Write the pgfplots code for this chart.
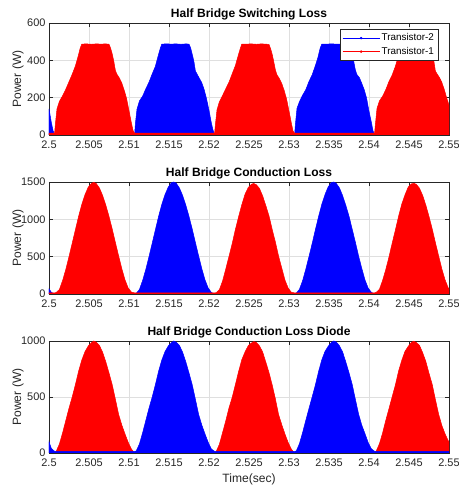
\documentclass[border=0pt]{standalone}
\usepackage{fontspec}
\setmainfont{Liberation Sans}
\usepackage{pgfplots}
\pgfplotsset{compat=1.18}

\definecolor{axisgray}{RGB}{38,38,38}
\definecolor{gridgray}{RGB}{223,223,223}
\definecolor{tblue}{RGB}{0,0,255}
\definecolor{tred}{RGB}{255,0,0}

\pgfplotsset{
  lossaxis/.style={
    scale only axis, width=400bp, height=112bp, anchor=south west,
    xmin=2.5, xmax=2.55,
    xtick={2.5,2.505,2.51,2.515,2.52,2.525,2.53,2.535,2.54,2.545,2.55},
    xticklabels={2.5,2.505,2.51,2.515,2.52,2.525,2.53,2.535,2.54,2.545,2.55},
    /pgf/number format/assume math mode=true,
    grid=major, major grid style={draw=gridgray, line width=0.5pt},
    axis line style={draw=axisgray, line width=0.5pt},
    tick style={draw=axisgray, line width=0.5pt},
    tick align=inside, major tick length=4bp,
    ticklabel style={font=\fontsize{11}{13}\selectfont, text=axisgray},
    xticklabel style={yshift=-2bp},
    ylabel={Power (W)},
    every axis y label/.style={at={(axis description cs:-0.0775,0.5)}, rotate=90, anchor=center,
      font=\fontsize{12.1}{14}\selectfont, text=axisgray},
    every axis title/.style={at={(axis description cs:0.5,1)}, anchor=base, yshift=5bp,
      font=\bfseries\fontsize{12.1}{14}\selectfont, text=black},
    fillb/.style={draw=tblue, fill=tblue, line width=0.5pt, forget plot},
    fillr/.style={draw=tred, fill=tred, line width=0.5pt, forget plot},
  }
}

\begin{document}
\begin{tikzpicture}
\useasboundingbox (0,0) rectangle (459bp,485bp);

% ---------------- switching loss ----------------
\begin{axis}[lossaxis, at={(49bp,350bp)},
  ymin=0, ymax=600, ytick={0,200,400,600}, yticklabels={0,200,400,600},
  title={Half Bridge Switching Loss},
  legend image code/.code={
    \draw[#1, line width=0.5pt] (0bp,0bp) -- (37bp,0bp);
    \fill[#1] (18.5bp,0bp) circle (1bp);
  },
  legend style={at={(0.9725,0.944)}, anchor=north east, draw=axisgray, line width=0.5pt,
    fill=white, font=\fontsize{9.9}{11}\selectfont, text=black,
    inner xsep=2bp, inner ysep=2.5bp, row sep=1.2bp,
    nodes={inner sep=1.8bp}},
  legend cell align=left]
\addlegendimage{tblue}
\addlegendentry{Transistor-2}
\addlegendimage{tred}
\addlegendentry{Transistor-1}

\addplot[fillb] coordinates {
 (2.5000,140) (2.5003,65) (2.5005,25) (2.5007,0) (2.5106,0)
 (2.5107,0) (2.5108,62) (2.5110,138) (2.5113,182) (2.5117,208) (2.5121,247) (2.5125,283) (2.5129,327)
 (2.5133,368) (2.5136,417) (2.5139,463) (2.5141,487) (2.5147,488) (2.5153,487) (2.5159,488) (2.5165,486)
 (2.5171,488) (2.5175,487) (2.5177,467) (2.5179,433) (2.5181,397) (2.5183,343) (2.5185,327) (2.5188,303)
 (2.5191,280) (2.5194,242) (2.5197,193) (2.5200,132) (2.5203,63) (2.5205,27) (2.5207,0)
 (2.5306,0)
 (2.5307,0) (2.5308,57) (2.5310,143) (2.5313,178) (2.5317,213) (2.5321,243) (2.5325,287) (2.5329,323)
 (2.5333,372) (2.5336,413) (2.5339,466) (2.5341,487) (2.5347,487) (2.5353,488) (2.5359,487) (2.5365,486)
 (2.5371,488) (2.5375,486) (2.5377,463) (2.5379,437) (2.5381,393) (2.5383,347) (2.5385,323) (2.5388,307)
 (2.5391,276) (2.5394,243) (2.5397,197) (2.5400,127) (2.5403,67) (2.5405,23) (2.5407,0)
 (2.5500,0)
} \closedcycle;

\addplot[fillr] coordinates {
 (2.5000,10) (2.5006,10)
 (2.5007,10) (2.5008,60) (2.5010,140) (2.5013,180) (2.5017,210) (2.5021,245) (2.5025,285) (2.5029,325)
 (2.5033,370) (2.5036,415) (2.5039,465) (2.5041,487) (2.5047,488) (2.5053,486) (2.5059,488) (2.5065,487)
 (2.5071,488) (2.5075,486) (2.5077,465) (2.5079,435) (2.5081,395) (2.5083,345) (2.5085,325) (2.5088,305)
 (2.5091,278) (2.5094,240) (2.5097,195) (2.5100,130) (2.5103,65) (2.5105,25) (2.5107,10)
 (2.5206,10)
 (2.5207,10) (2.5208,55) (2.5210,135) (2.5213,178) (2.5217,212) (2.5221,248) (2.5225,283) (2.5229,328)
 (2.5233,372) (2.5236,418) (2.5239,462) (2.5241,487) (2.5247,487) (2.5253,488) (2.5259,486) (2.5265,488)
 (2.5271,487) (2.5275,485) (2.5277,462) (2.5279,432) (2.5281,392) (2.5283,348) (2.5285,322) (2.5288,302)
 (2.5291,275) (2.5294,238) (2.5297,192) (2.5300,128) (2.5303,62) (2.5305,22) (2.5307,10)
 (2.5406,10)
 (2.5407,10) (2.5408,58) (2.5410,142) (2.5413,182) (2.5417,208) (2.5421,243) (2.5425,287) (2.5429,322)
 (2.5433,368) (2.5436,413) (2.5439,467) (2.5441,487) (2.5447,488) (2.5453,487) (2.5459,486) (2.5465,488)
 (2.5471,487) (2.5475,486) (2.5477,468) (2.5479,438) (2.5481,398) (2.5483,342) (2.5485,328) (2.5488,308)
 (2.5491,282) (2.5494,245) (2.5497,200) (2.5500,160)
} \closedcycle;
\end{axis}

% ---------------- conduction loss ----------------
\begin{axis}[lossaxis, at={(49bp,191bp)},
  ymin=0, ymax=1500, ytick={0,500,1000,1500}, yticklabels={0,500,1000,1500},
  title={Half Bridge Conduction Loss}]
\addplot[fillb] coordinates {
 (2.5000,70) (2.5003,22) (2.5007,0) (2.5106,0)
 (2.5107,0) (2.5109,8) (2.5113,60) (2.5117,180) (2.5121,330) (2.5125,500) (2.5129,680) (2.5133,860)
 (2.5137,1040) (2.5141,1200) (2.5145,1330) (2.5149,1430) (2.5153,1490) (2.5156,1500) (2.5159,1485)
 (2.5163,1420) (2.5167,1320) (2.5171,1190) (2.5175,1040) (2.5179,870) (2.5183,690) (2.5187,510)
 (2.5191,340) (2.5195,190) (2.5199,80) (2.5203,20) (2.5207,0)
 (2.5306,0)
 (2.5307,0) (2.5309,10) (2.5313,62) (2.5317,178) (2.5321,332) (2.5325,502) (2.5329,678) (2.5333,862)
 (2.5337,1038) (2.5341,1202) (2.5345,1332) (2.5349,1435) (2.5353,1492) (2.5356,1500) (2.5359,1482)
 (2.5363,1422) (2.5367,1318) (2.5371,1188) (2.5375,1042) (2.5379,868) (2.5383,692) (2.5387,508)
 (2.5391,342) (2.5395,188) (2.5399,78) (2.5403,22) (2.5407,0)
 (2.5500,0)
} \closedcycle;

\addplot[fillr] coordinates {
 (2.5000,15) (2.5006,15)
 (2.5007,15) (2.5009,20) (2.5013,60) (2.5017,180) (2.5021,330) (2.5025,500) (2.5029,680) (2.5033,860)
 (2.5037,1040) (2.5041,1200) (2.5045,1330) (2.5049,1430) (2.5053,1480) (2.5056,1495) (2.5059,1480)
 (2.5063,1420) (2.5067,1320) (2.5071,1190) (2.5075,1040) (2.5079,870) (2.5083,690) (2.5087,510)
 (2.5091,340) (2.5095,190) (2.5099,80) (2.5103,25) (2.5107,15)
 (2.5206,15)
 (2.5207,15) (2.5209,18) (2.5213,58) (2.5217,175) (2.5221,335) (2.5225,505) (2.5229,675) (2.5233,865)
 (2.5237,1035) (2.5241,1195) (2.5245,1335) (2.5249,1425) (2.5253,1470) (2.5256,1480) (2.5259,1465)
 (2.5263,1415) (2.5267,1315) (2.5271,1185) (2.5275,1045) (2.5279,865) (2.5283,695) (2.5287,505)
 (2.5291,345) (2.5295,185) (2.5299,78) (2.5303,22) (2.5307,15)
 (2.5406,15)
 (2.5407,15) (2.5409,22) (2.5413,62) (2.5417,182) (2.5421,328) (2.5425,498) (2.5429,682) (2.5433,858)
 (2.5437,1042) (2.5441,1205) (2.5445,1328) (2.5449,1432) (2.5453,1475) (2.5456,1482) (2.5459,1470)
 (2.5463,1418) (2.5467,1322) (2.5471,1192) (2.5475,1038) (2.5479,872) (2.5483,688) (2.5487,512)
 (2.5491,338) (2.5495,192) (2.5499,82) (2.5500,75)
} \closedcycle;
\end{axis}

% ---------------- diode conduction loss ----------------
\begin{axis}[lossaxis, at={(49bp,32bp)},
  ymin=0, ymax=1000, ytick={0,500,1000}, yticklabels={0,500,1000},
  title={Half Bridge Conduction Loss Diode},
  xlabel={Time(sec)},
  every axis x label/.style={at={(axis description cs:0.5,0)}, anchor=base, yshift=-29bp,
    font=\fontsize{12.1}{14}\selectfont, text=axisgray}]
\addplot[fillr] coordinates {
 (2.5000,0) (2.5006,0)
 (2.5007,0) (2.5009,15) (2.5013,80) (2.5017,180) (2.5021,290) (2.5025,400) (2.5029,500) (2.5033,610)
 (2.5037,730) (2.5041,830) (2.5045,905) (2.5049,955) (2.5053,985) (2.5056,1000) (2.5059,990)
 (2.5063,960) (2.5067,900) (2.5071,815) (2.5075,715) (2.5079,610) (2.5083,480) (2.5087,345)
 (2.5091,250) (2.5095,170) (2.5099,95) (2.5103,35) (2.5107,0)
 (2.5206,0)
 (2.5207,0) (2.5209,13) (2.5213,78) (2.5217,183) (2.5221,288) (2.5225,403) (2.5229,497) (2.5233,612)
 (2.5237,727) (2.5241,833) (2.5245,902) (2.5249,958) (2.5253,982) (2.5256,995) (2.5259,988)
 (2.5263,957) (2.5267,903) (2.5271,812) (2.5275,718) (2.5279,607) (2.5283,483) (2.5287,342)
 (2.5291,252) (2.5295,168) (2.5299,93) (2.5303,33) (2.5307,0)
 (2.5406,0)
 (2.5407,0) (2.5409,17) (2.5413,82) (2.5417,178) (2.5421,292) (2.5425,397) (2.5429,503) (2.5433,608)
 (2.5437,732) (2.5441,828) (2.5445,908) (2.5449,952) (2.5453,988) (2.5456,998) (2.5459,987)
 (2.5463,962) (2.5467,897) (2.5471,818) (2.5475,712) (2.5479,613) (2.5483,477) (2.5487,348)
 (2.5491,247) (2.5495,172) (2.5499,110) (2.5500,100)
} \closedcycle;

\addplot[fillb] coordinates {
 (2.5000,100) (2.5003,40) (2.5007,15) (2.5106,15)
 (2.5107,15) (2.5109,18) (2.5113,80) (2.5117,180) (2.5121,290) (2.5125,400) (2.5129,500) (2.5133,610)
 (2.5137,730) (2.5141,830) (2.5145,905) (2.5149,955) (2.5153,985) (2.5156,1000) (2.5159,990)
 (2.5163,960) (2.5167,900) (2.5171,815) (2.5175,715) (2.5179,610) (2.5183,480) (2.5187,345)
 (2.5191,250) (2.5195,170) (2.5199,95) (2.5203,35) (2.5207,15)
 (2.5306,15)
 (2.5307,15) (2.5309,17) (2.5313,82) (2.5317,182) (2.5321,292) (2.5325,398) (2.5329,502) (2.5333,608)
 (2.5337,728) (2.5341,832) (2.5345,907) (2.5349,953) (2.5353,987) (2.5356,1000) (2.5359,992)
 (2.5363,958) (2.5367,902) (2.5371,813) (2.5375,717) (2.5379,612) (2.5383,478) (2.5387,347)
 (2.5391,248) (2.5395,172) (2.5399,93) (2.5403,37) (2.5407,15)
 (2.5500,15)
} \closedcycle;
\end{axis}
\end{tikzpicture}
\end{document}
